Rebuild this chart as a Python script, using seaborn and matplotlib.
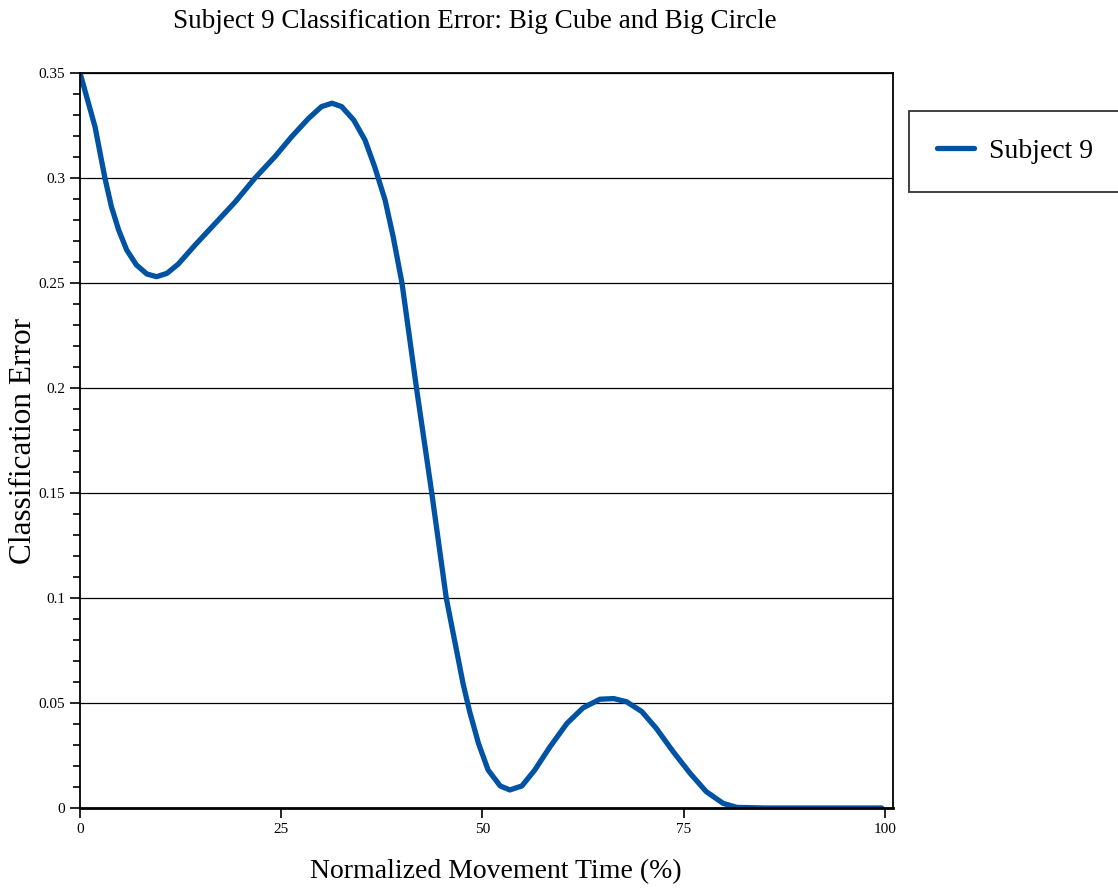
import numpy as np
import pandas as pd
import matplotlib
matplotlib.use("Agg")
import matplotlib.pyplot as plt
import seaborn as sns
from matplotlib.ticker import MultipleLocator, FuncFormatter

# values
time_pct = [0, 1.86, 3.1, 3.9, 4.8, 5.8, 7.0, 8.3, 9.5, 10.8, 12.2, 14.3, 16.8, 19.3,
            21.7, 24.2, 26.3, 28.4, 30.0, 31.3, 32.5, 34.0, 35.4, 36.6, 37.9, 38.9,
            40.0, 41.8, 43.7, 45.5, 47.6, 48.4, 49.5, 50.7, 52.2, 53.4, 54.9, 56.5,
            58.4, 60.5, 62.5, 64.6, 66.3, 67.9, 69.8, 71.6, 73.7, 75.8, 77.8, 79.9,
            81.6, 85, 90, 95, 99.6]
error = [0.35, 0.3244, 0.2998, 0.2863, 0.2752, 0.2657, 0.2586, 0.2543, 0.2530, 0.2546,
         0.2590, 0.2681, 0.2784, 0.2887, 0.2998, 0.3101, 0.3197, 0.3284, 0.3340, 0.3356,
         0.3340, 0.3276, 0.3181, 0.3054, 0.2895, 0.2721, 0.2500, 0.2000, 0.1500, 0.1000,
         0.059, 0.046, 0.0308, 0.0181, 0.0105, 0.0086, 0.0105, 0.0181, 0.0292, 0.0403,
         0.0477, 0.0518, 0.0521, 0.0506, 0.0459, 0.0379, 0.0268, 0.0165, 0.0078, 0.0022,
         0.0003, 0.0, 0.0, 0.0, 0.0]

df = pd.DataFrame({"time": time_pct, "error": error, "subject": "Subject 9"})

line_color = "#0052a3"

sns.set_style("white")
plt.rcParams["font.family"] = ["Liberation Serif", "DejaVu Serif"]
plt.rcParams["text.color"] = "black"
plt.rcParams["axes.labelcolor"] = "black"
plt.rcParams["xtick.color"] = "black"
plt.rcParams["ytick.color"] = "black"

fig = plt.figure(figsize=(11.18, 8.88), dpi=100)
ax = fig.add_axes([0.0716, 0.0901, 0.7271, 0.8277])

sns.lineplot(data=df, x="time", y="error", hue="subject", palette=[line_color],
             linewidth=3.8, ax=ax, legend=False, solid_capstyle="round")

ax.set_xlim(0, 101)
ax.set_ylim(0, 0.35)
ax.xaxis.set_major_locator(MultipleLocator(25))
ax.yaxis.set_major_locator(MultipleLocator(0.05))
ax.yaxis.set_minor_locator(MultipleLocator(0.01))
ax.yaxis.set_major_formatter(FuncFormatter(lambda v, p: f"{round(v, 2):g}"))
ax.tick_params(axis="both", which="major", direction="out", length=7, width=1.2,
               labelsize=11, left=True, bottom=True)
ax.tick_params(axis="y", which="minor", direction="out", length=5, width=1.2, left=True)
ax.yaxis.grid(True, color="black", linewidth=0.9)
ax.set_axisbelow(True)
for s in ax.spines.values():
    s.set_color("black")
    s.set_linewidth(1.3)
ax.spines["bottom"].set_linewidth(2)

ax.set_xlabel("Normalized Movement Time (%)", fontsize=20, labelpad=17)
ax.xaxis.label.set_x(0.511)
ax.set_ylabel("Classification Error", fontsize=22.5)
ax.yaxis.set_label_coords(-0.052, 0.5)
fig.suptitle("Subject 9 Classification Error: Big Cube and Big Circle",
             fontsize=19.5, x=0.425, y=0.99)

handle = plt.Line2D([], [], color=line_color, linewidth=3.8, solid_capstyle="round")
leg = fig.legend([handle], ["Subject 9"], loc="upper left",
                 bbox_to_anchor=(0.813, 0.875), fontsize=20, frameon=True,
                 fancybox=False, edgecolor="black", handlelength=1.35,
                 borderpad=1.0, handletextpad=0.55, borderaxespad=0)
leg.get_frame().set_linewidth(1.3)

fig.savefig("out.png", dpi=100)
